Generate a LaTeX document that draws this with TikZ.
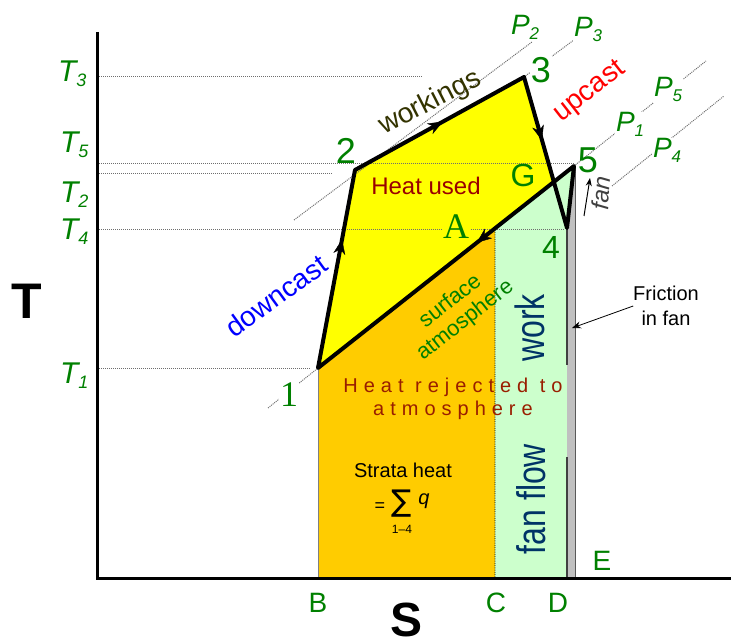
\documentclass[tikz,border=0pt]{standalone}
\usepackage{fontspec}
\setmainfont{Liberation Sans}
\newfontfamily\serifA{Liberation Serif}
\newfontfamily\spacedA[LetterSpace=30]{Liberation Sans}
\newfontfamily\dejavu{DejaVu Sans}
\usetikzlibrary{arrows.meta,decorations.markings,calc}
\definecolor{lblgreen}{RGB}{0,128,0}
\definecolor{fillorange}{RGB}{255,204,0}
\definecolor{fillgreen}{RGB}{204,255,204}
\definecolor{fillgray}{RGB}{192,192,192}
\definecolor{fillyellow}{RGB}{255,255,0}
\definecolor{heatred}{RGB}{153,0,0}
\definecolor{rejred}{RGB}{153,30,0}
\definecolor{wkolive}{RGB}{51,51,0}
\definecolor{worknavy}{RGB}{0,51,102}
\definecolor{fangray}{RGB}{64,64,64}
\definecolor{dotgray}{RGB}{110,110,110}
\newcommand{\fsz}[1]{\fontsize{#1}{#1}\selectfont}
\newcommand{\subl}[4]{{\itshape #1\raisebox{-#4}{\fsz{#3}#2}}}
\begin{document}
\begin{tikzpicture}[x=1pt,y=-1pt,
  every node/.style={inner sep=0pt,outer sep=0pt},
  ptlabel/.style={text=lblgreen,font=\fsz{36}},
  letlabel/.style={text=lblgreen,font=\fsz{28}},
  tlabel/.style={text=lblgreen,font=\fsz{30},anchor=base west},
  plabel/.style={text=lblgreen,font=\fsz{28},anchor=base west,fill=white,inner sep=1pt},
  tline/.style={dotgray,densely dotted,line width=1pt},
  isobar/.style={dotgray,densely dotted,line width=1pt},
  cyc/.style={line width=4pt,line join=round},
  midarrow/.style={postaction={decorate},decoration={markings,
     mark=at position #1 with {\arrow{Stealth[length=15pt,width=12pt]}}}}
]
\useasboundingbox (0,0) rectangle (731,644);

% key points
\coordinate (p1) at (318,368);
\coordinate (p2) at (355,170);
\coordinate (p3) at (524,77);
\coordinate (p4) at (567,228);
\coordinate (p5) at (574,166);
\coordinate (B0) at (318,578);
\coordinate (C0) at (495,578);
\coordinate (Cup) at (495,100);
\coordinate (D0) at (567,578);
\coordinate (E0) at (575,578);
\coordinate (E1) at (575,166);
\coordinate (G) at (intersection of p3--p4 and p5--p1);
\coordinate (Ctop) at (intersection of C0--Cup and p5--p1);

% fills
\fill[fillorange] (B0) -- (p1) -- (Ctop) -- (C0) -- cycle;
\fill[fillgreen] (C0) -- (Ctop) -- (p5) -- (p4) -- (D0) -- cycle;
\fill[fillgray] (p4) -- (p5) -- (E1) -- (E0) -- (D0) -- cycle;
\fill[fillyellow] (p1) -- (p2) -- (p3) -- (G) -- cycle;

% temperature lines
\coordinate (t3a) at (97,77);  \coordinate (t3b) at (422,77);
\coordinate (t5a) at (97,164); \coordinate (t5b) at (574,164);
\coordinate (t2a) at (97,174); \coordinate (t2b) at (333,174);
\coordinate (t4a) at (97,230); \coordinate (t4b) at (565,230);
\coordinate (t1a) at (97,368); \coordinate (t1b) at (310,368);
\draw[tline] (t3a) -- (t3b);
\draw[tline] (t5a) -- (t5b);
\draw[tline] (t2a) -- (t2b);
\draw[tline] (t4a) -- (t4b);
\draw[tline] (t1a) -- (t1b);

% C dotted divider, edges
\draw[densely dotted,line width=0.8pt] (Ctop) -- (C0);
\draw[gray,line width=1pt] (p1) -- (B0);
\coordinate (s1) at (567,365); \coordinate (s2) at (567,457);
\draw[fangray,line width=1.5pt] (p4) -- (s1);
\draw[fangray,line width=1.5pt] (s2) -- (D0);
\draw[gray!70!black,line width=0.8pt] (E1) -- (E0);

% isobars
\coordinate (i2a) at (294,220); \coordinate (i2b) at (532,42);
\coordinate (i3b) at (578,37);
\coordinate (i1a) at (268,408);
\coordinate (i5b) at (706,61);
\coordinate (i4a) at (612,186); \coordinate (i4b) at (724,96);
\draw[isobar] (i2a) -- (i2b);
\draw[isobar] (p3) -- (i3b);
\draw[isobar] (i1a) -- (p1);
\draw[isobar] (p5) -- (i5b);
\draw[isobar] (i4a) -- (i4b);

% cycle
\draw[cyc] (p1) -- (p2) -- (p3) -- (p4) -- (p5) -- cycle;
\path[midarrow=0.65] (p1) -- (p2);
\path[midarrow=0.52] (p2) -- (p3);
\path[midarrow=0.42] (p3) -- (p4);
\path[midarrow=0.38] (p5) -- (p1);

% axes
\coordinate (axtop) at (97,32);
\coordinate (ax0) at (97,578);
\coordinate (axr) at (731,578);
\draw[line width=3pt] (axtop) -- (ax0) -- (axr);

% point labels
\node[ptlabel] (n2) at (346,151) {2};
\node[ptlabel,fill=white,inner sep=1pt] (n3) at (541,70) {3};
\node[ptlabel] (n5) at (588,160) {5};
\node[ptlabel,font=\fsz{32}] (n4) at (551,247) {4};
\node[ptlabel,font=\fsz{32}] (nG) at (523,175) {G};
\node[ptlabel,font=\serifA\fsz{36},fill=fillyellow,inner sep=1pt] (nA) at (456,227) {A};
\node[ptlabel,font=\serifA\fsz{36},fill=white,inner sep=1pt] (n1) at (289,395) {1};

% axis letters
\node[letlabel] (lB) at (318,603) {B};
\node[letlabel] (lC) at (496,603) {C};
\node[letlabel] (lD) at (558,603) {D};
\node[letlabel] (lE) at (602,561) {E};
\node[font=\bfseries\fsz{48}] (lS) at (407,620) {S};
\node[font=\bfseries\fsz{50}] (lT) at (27,301) {T};

% temperature labels
\node[tlabel] (T3) at (58,82) {\subl{T}{3}{18}{5pt}};
\node[tlabel] (T5) at (60,153) {\subl{T}{5}{18}{5pt}};
\node[tlabel] (T2) at (60,203) {\subl{T}{2}{18}{5pt}};
\node[tlabel] (T4) at (60,240) {\subl{T}{4}{18}{5pt}};
\node[tlabel] (T1) at (60,383) {\subl{T}{1}{18}{5pt}};

% pressure labels
\node[plabel] (P2) at (510,35) {\subl{P}{2}{17}{5pt}};
\node[plabel] (P3) at (573,37) {\subl{P}{3}{17}{5pt}};
\node[plabel] (P5) at (653,97) {\subl{P}{5}{17}{5pt}};
\node[plabel] (P1) at (615,132) {\subl{P}{1}{17}{5pt}};
\node[plabel] (P4) at (652,158) {\subl{P}{4}{17}{5pt}};

% process texts
\node[text=wkolive,font=\fsz{28},rotate=27] (wk) at (430,103) {workings};
\node[text=red,font=\fsz{28},rotate=38] (up) at (590,92) {upcast};
\node[text=blue,font=\fsz{28},rotate=36] (dc) at (276,296) {downcast};
\node[text=heatred,font=\fsz{24}] (hu) at (426,186) {Heat used};
\node[text=lblgreen,font=\fontsize{22}{24}\selectfont,rotate=38,align=center] (sa) at (458,311) {surface\\atmosphere};
\node[text=rejred,font=\spacedA\fontsize{20}{23}\selectfont,align=center] (hr) at (453,399) {Heat rejected to\\atmosphere};
\node[text=worknavy,font=\fsz{32},xscale=1.28,rotate=90] (wo) at (530,328) {work};
\node[text=worknavy,font=\fsz{32},xscale=1.25,rotate=90] (ff) at (531,499) {fan flow};

% strata heat
\node[font=\fsz{20}] (sh) at (403,470) {Strata heat};
\node[font=\fsz{18}] (eq) at (380,507) {=};
\node[font=\dejavu\fsz{30}] (sig) at (402,504) {∑};
\node[font=\itshape\fsz{20}] (qq) at (424,501) {q};
\node[font=\fsz{12}] (sub) at (402,529) {1–4};

% fan
\node[text=fangray,font=\itshape\fsz{24},rotate=85] (fan) at (601,193) {fan};
\coordinate (fa0) at (584,216); \coordinate (fa1) at (590,178);
\draw[-{Stealth[length=8pt,width=6pt]},line width=1pt] (fa0) -- (fa1);

% friction
\node[font=\fontsize{20}{25}\selectfont,align=center] (fr) at (666,306) {Friction\\in fan};
\coordinate (frp) at (572,328);
\draw[-{Stealth[length=9pt,width=7pt]},line width=0.8pt] (fr.west) -- (frp);
\end{tikzpicture}
\end{document}
